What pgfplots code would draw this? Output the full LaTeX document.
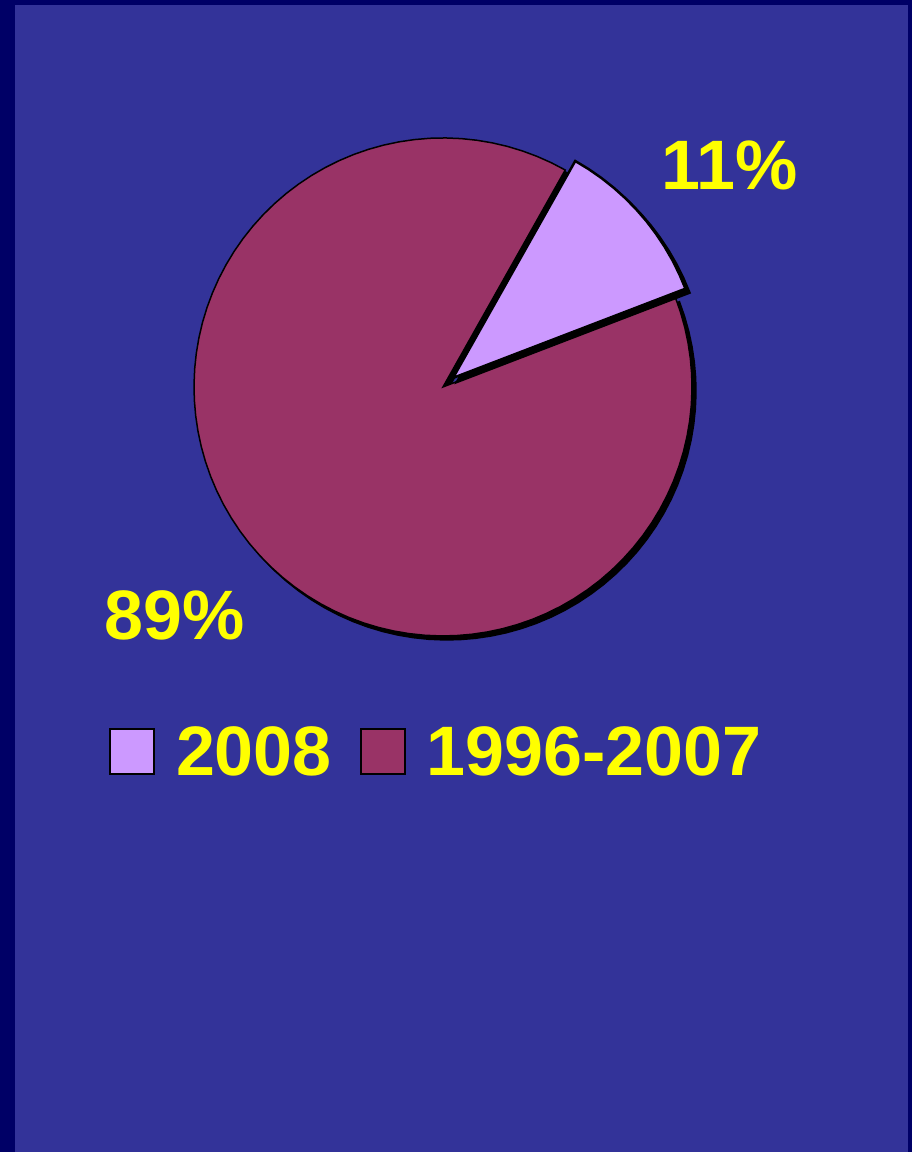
\documentclass[border=0pt]{standalone}
\usepackage{fontspec}
\setmainfont{Liberation Sans}
\usepackage{pgfplots}
\pgfplotsset{compat=1.18}
\definecolor{bgblue}{HTML}{333399}
\definecolor{navyb}{HTML}{000066}
\definecolor{maroon}{HTML}{993366}
\definecolor{lilac}{HTML}{CC99FF}
\definecolor{yel}{HTML}{FFFF00}
\begin{document}
\begin{tikzpicture}
\fill[navyb] (0,0) rectangle (912pt,1152pt);
\fill[bgblue] (15pt,0) rectangle (908pt,1147pt);
\begin{axis}[
  at={(0,0)}, anchor=south west,
  scale only axis, width=912pt, height=1152pt,
  xmin=-443, xmax=469, ymin=-765, ymax=387,
  hide axis, clip=false,
  legend columns=2,
  legend image code/.code={\draw[#1,draw=black,line width=1.8pt] (0pt,-22pt) rectangle (44pt,23pt);},
  legend style={at={(axis cs:-337,-365)}, anchor=west, draw=none, fill=none,
     text=yel, font=\fontsize{70}{84}\selectfont\bfseries,
     /tikz/every odd column/.append style={column sep=19pt},
     /tikz/every even column/.append style={column sep=26pt}},
]
\addlegendimage{fill=lilac}\addlegendentry{2008}
\addlegendimage{fill=maroon}\addlegendentry{1996-2007}
% maroon slice: 89 %
\addplot[forget plot, data cs=polar, fill=black, draw=black, line width=1.5pt,
  shift={(axis direction cs:4,-4)}] coordinates {
(0,0)
(60.6,249) (64.2,249) (67.8,249) (71.4,249) (75.0,249) (78.6,249) (82.2,249) (85.8,249) (89.4,249) (93.0,249)
(96.6,249) (100.2,249) (103.8,249) (107.4,249) (111.0,249) (114.6,249) (118.2,249) (121.8,249) (125.4,249) (129.0,249)
(132.6,249) (136.2,249) (139.8,249) (143.4,249) (147.0,249) (150.6,249) (154.2,249) (157.8,249) (161.4,249) (165.0,249)
(168.6,249) (172.2,249) (175.8,249) (179.4,249) (183.0,249) (186.6,249) (190.2,249) (193.8,249) (197.4,249) (201.0,249)
(204.6,249) (208.2,249) (211.8,249) (215.4,249) (219.0,249) (222.6,249) (226.2,249) (229.8,249) (233.4,249) (237.0,249)
(240.6,249) (244.2,249) (247.8,249) (251.4,249) (255.0,249) (258.6,249) (262.2,249) (265.8,249) (269.4,249) (273.0,249)
(276.6,249) (280.2,249) (283.8,249) (287.4,249) (291.0,249) (294.6,249) (298.2,249) (301.8,249) (305.4,249) (309.0,249)
(312.6,249) (316.2,249) (319.8,249) (323.4,249) (327.0,249) (330.6,249) (334.2,249) (337.8,249) (341.4,249) (345.0,249)
(348.6,249) (352.2,249) (355.8,249) (359.4,249) (363.0,249) (366.6,249) (370.2,249) (373.8,249) (377.4,249) (381.0,249)
} -- cycle;
\addplot[forget plot, data cs=polar, fill=maroon, draw=black, line width=1.5pt] coordinates {
(0,0)
(60.6,249) (64.2,249) (67.8,249) (71.4,249) (75.0,249) (78.6,249) (82.2,249) (85.8,249) (89.4,249) (93.0,249)
(96.6,249) (100.2,249) (103.8,249) (107.4,249) (111.0,249) (114.6,249) (118.2,249) (121.8,249) (125.4,249) (129.0,249)
(132.6,249) (136.2,249) (139.8,249) (143.4,249) (147.0,249) (150.6,249) (154.2,249) (157.8,249) (161.4,249) (165.0,249)
(168.6,249) (172.2,249) (175.8,249) (179.4,249) (183.0,249) (186.6,249) (190.2,249) (193.8,249) (197.4,249) (201.0,249)
(204.6,249) (208.2,249) (211.8,249) (215.4,249) (219.0,249) (222.6,249) (226.2,249) (229.8,249) (233.4,249) (237.0,249)
(240.6,249) (244.2,249) (247.8,249) (251.4,249) (255.0,249) (258.6,249) (262.2,249) (265.8,249) (269.4,249) (273.0,249)
(276.6,249) (280.2,249) (283.8,249) (287.4,249) (291.0,249) (294.6,249) (298.2,249) (301.8,249) (305.4,249) (309.0,249)
(312.6,249) (316.2,249) (319.8,249) (323.4,249) (327.0,249) (330.6,249) (334.2,249) (337.8,249) (341.4,249) (345.0,249)
(348.6,249) (352.2,249) (355.8,249) (359.4,249) (363.0,249) (366.6,249) (370.2,249) (373.8,249) (377.4,249) (381.0,249)
} -- cycle;
% lilac slice: 11 %, exploded
\addplot[forget plot, data cs=polar, fill=black, draw=black, line width=2.5pt,
  shift={(axis direction cs:14,5)}] coordinates {
(0,0)
(21.0,249) (24.6,249) (28.2,249) (31.8,249) (35.4,249) (39.0,249) (42.6,249) (46.2,249) (49.8,249) (53.4,249) (57.0,249) (60.6,249)
} -- cycle;
\addplot[forget plot, data cs=polar, fill=lilac, draw=black, line width=2.5pt,
  shift={(axis direction cs:10,9)}] coordinates {
(0,0)
(21.0,249) (24.6,249) (28.2,249) (31.8,249) (35.4,249) (39.0,249) (42.6,249) (46.2,249) (49.8,249) (53.4,249) (57.0,249) (60.6,249)
} -- cycle;
\node[anchor=base, text=yel, font=\fontsize{70}{84}\selectfont\bfseries, inner sep=0pt]
  at (axis cs:287,197) {11\%};
\node[anchor=base, text=yel, font=\fontsize{70}{84}\selectfont\bfseries, inner sep=0pt]
  at (axis cs:-268,-253) {89\%};
\end{axis}
\pgfresetboundingbox
\useasboundingbox (0,0) rectangle (912pt,1152pt);
\end{tikzpicture}
\end{document}
